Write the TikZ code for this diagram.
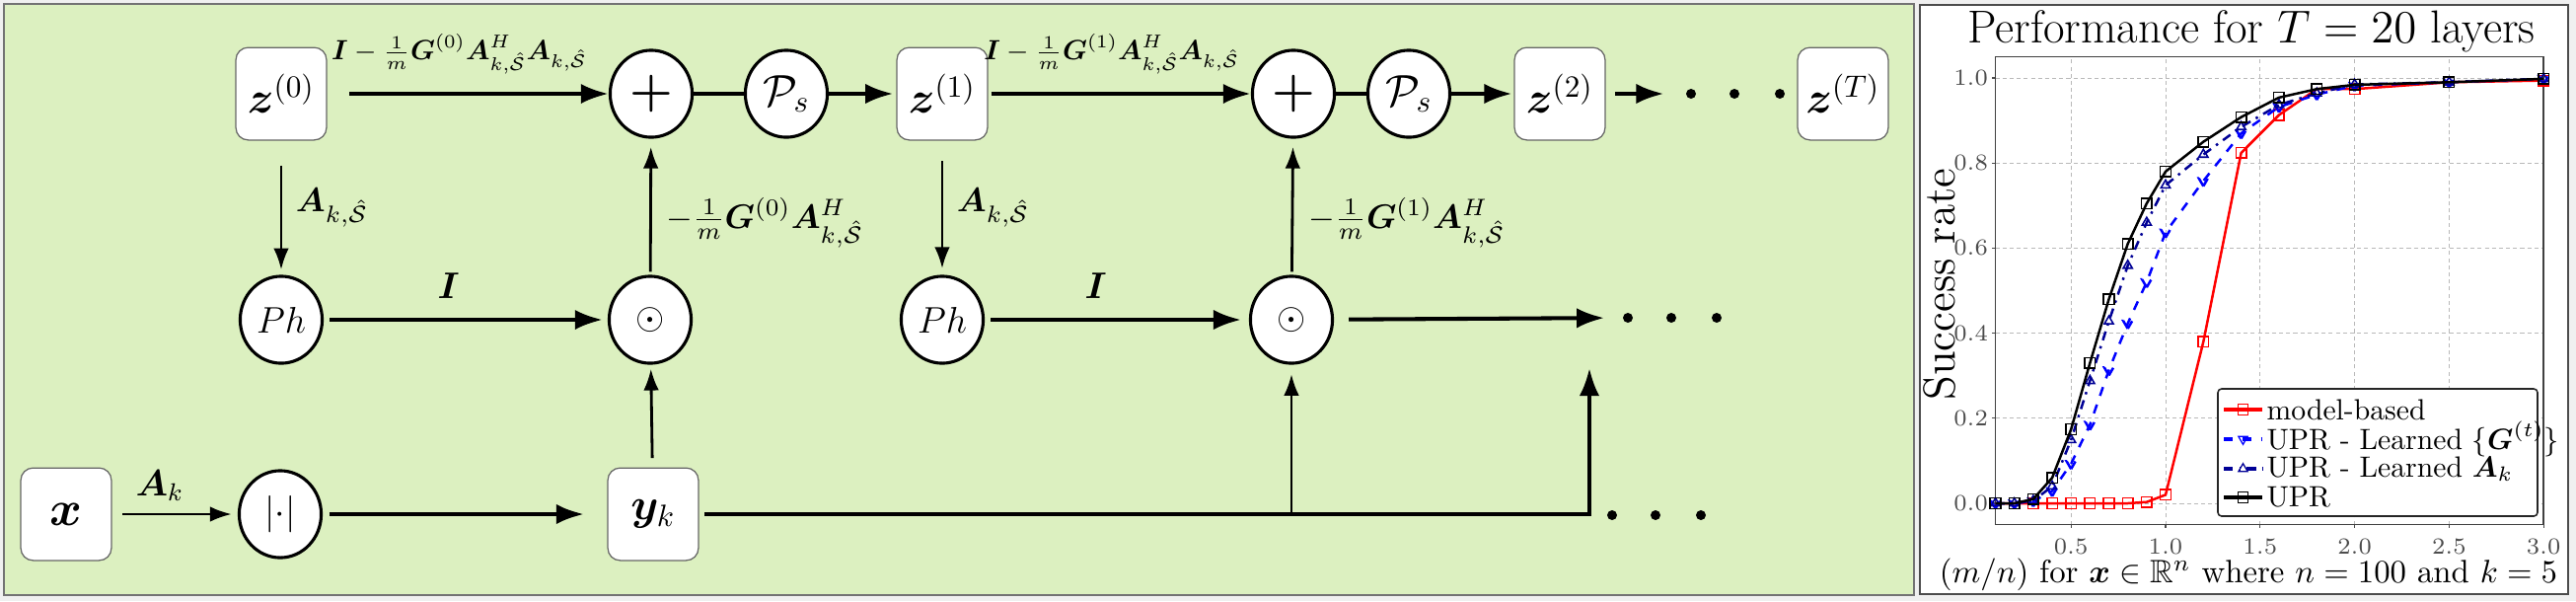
\RequirePackage{fix-cm}
\documentclass[tikz,border=0pt]{standalone}
\usepackage{amsmath,amssymb,bm}
\usetikzlibrary{arrows.meta,shapes.geometric,plotmarks}
\definecolor{panelgreen}{RGB}{220,240,192}
\definecolor{pagegray}{RGB}{240,240,240}
\definecolor{upnavy}{RGB}{0,0,150}
\begin{document}
\begin{tikzpicture}[x=0.32pt, y=-0.32pt,
    blockbox/.style={draw=black!60, line width=0.4pt, fill=white, rounded corners=4pt,
      minimum width=29.4pt, minimum height=30pt, inner sep=0pt},
    opnode/.style={ellipse, draw, line width=1pt, fill=white,
      minimum width=26.6pt, minimum height=28.2pt, inner sep=0pt},
    link/.style={line width=1.3pt},
    flow/.style={line width=1.3pt, -{Latex[length=9pt,width=6.5pt]}},
    thinflow/.style={line width=0.9pt, -{Latex[length=7pt,width=5pt]}},
    bigdot/.style={circle, fill, inner sep=0pt, minimum size=3.2pt},
    gridline/.style={gray!55, line width=0.3pt, dash pattern=on 1.3pt off 1pt},
    ticklab/.style={font=\fontsize{7.5}{8}\selectfont, text=black!70, inner sep=1pt},
    curve/.style={line width=0.8pt, mark size=1.7pt, mark options={solid, line width=0.5pt}} ]
    \useasboundingbox (0,0) rectangle (2611,609);
    \fill[pagegray] (0,0) rectangle (2611,609);
    \draw[black!55, line width=0.6pt, fill=panelgreen] (4,4) rectangle (1940,603);
    \draw[black!70, line width=0.7pt, fill=white] (1946,5) rectangle (2603,602);
    % top row
    \node[blockbox] (z0) at (285,95) {\Large$\bm{z}^{(0)}$};
    \node[opnode] (plus0) at (660,95) {\fontsize{16}{18}\selectfont\textbf{+}};
    \node[opnode] (ps0) at (797,95) {\Large$\mathcal{P}_s$};
    \node[blockbox] (z1) at (955,95) {\Large$\bm{z}^{(1)}$};
    \node[opnode] (plus1) at (1311,95) {\fontsize{16}{18}\selectfont\textbf{+}};
    \node[opnode] (ps1) at (1428,95) {\Large$\mathcal{P}_s$};
    \node[blockbox] (z2) at (1581,95) {\Large$\bm{z}^{(2)}$};
    \node[blockbox] (zT) at (1868,95) {\Large$\bm{z}^{(T)}$};
    \foreach \dx [count=\i] in {1714,1758,1804}
      \node[bigdot] (tdot\i) at (\dx,95) {};
    % middle row
    \node[opnode] (ph0) at (285,324) {\large$Ph$};
    \node[opnode] (odot0) at (659,324) {\large$\odot$};
    \node[opnode] (ph1) at (955,324) {\large$Ph$};
    \node[opnode] (odot1) at (1309,324) {\large$\odot$};
    \foreach \dx [count=\i] in {1650,1694,1740}
      \node[bigdot] (mdot\i) at (\dx,322) {};
    % bottom row
    \node[blockbox] (xin) at (67,521) {\fontsize{16}{18}\selectfont$\bm{x}$};
    \node[opnode] (absop) at (284,521) {\large$|{\cdot}|$};
    \node[blockbox] (yk) at (662,521) {\Large$\bm{y}_k$};
    \foreach \dx [count=\i] in {1634,1678,1724}
      \node[bigdot] (bdot\i) at (\dx,522) {};
    \coordinate (riseend) at (1611,373);
    % stage 0
    \draw[flow, shorten <=7.2pt] (z0) -- (plus0)
      node[pos=.47, above=2.5pt, font=\small] {$\bm{I}-\frac{1}{m}\bm{G}^{(0)}\bm{A}_{k,\hat{\mathcal{S}}}^{H}\bm{A}_{k,\hat{\mathcal{S}}}$};
    \draw[link] (plus0) -- (ps0);
    \draw[flow, shorten >=1pt] (ps0) -- (z1);
    \draw[thinflow, shorten <=8pt, shorten >=1.6pt] (z0) -- (ph0)
      node[midway, right=1pt, font=\fontsize{11}{13}\selectfont] {$\bm{A}_{k,\hat{\mathcal{S}}}$};
    \draw[flow, shorten <=1.9pt, shorten >=1.6pt] (ph0) -- (odot0)
      node[pos=.44, above=3pt, font=\large] {$\bm{I}$};
    \draw[thinflow, shorten <=1pt, shorten >=2.6pt] (odot0) -- (plus0)
      node[pos=.38, right=1.5pt, font=\fontsize{11}{13}\selectfont] {$-\frac{1}{m}\bm{G}^{(0)}\bm{A}_{k,\hat{\mathcal{S}}}^{H}$};
    % stage 1
    \draw[flow, shorten <=1pt] (z1) -- (plus1)
      node[pos=.47, above=2.5pt, font=\small] {$\bm{I}-\frac{1}{m}\bm{G}^{(1)}\bm{A}_{k,\hat{\mathcal{S}}}^{H}\bm{A}_{k,\hat{\mathcal{S}}}$};
    \draw[link] (plus1) -- (ps1);
    \draw[flow, shorten >=0.6pt] (ps1) -- (z2);
    \draw[flow, shorten <=3pt, shorten >=7pt] (z2) -- (tdot1);
    \draw[thinflow, shorten <=6.7pt, shorten >=2pt] (z1) -- (ph1)
      node[midway, right=1pt, font=\fontsize{11}{13}\selectfont] {$\bm{A}_{k,\hat{\mathcal{S}}}$};
    \draw[flow, shorten <=2pt, shorten >=2.5pt] (ph1) -- (odot1)
      node[pos=.42, above=3pt, font=\large] {$\bm{I}$};
    \draw[thinflow, shorten <=1pt, shorten >=2.6pt] (odot1) -- (plus1)
      node[pos=.38, right=1.5pt, font=\fontsize{11}{13}\selectfont] {$-\frac{1}{m}\bm{G}^{(1)}\bm{A}_{k,\hat{\mathcal{S}}}^{H}$};
    \draw[flow, shorten <=4.8pt, shorten >=5.8pt] (odot1) -- (mdot1);
    % measurements
    \draw[thinflow, line width=0.75pt, shorten <=3.5pt, shorten >=2pt] (xin) -- (absop)
      node[pos=.38, above=0.5pt, font=\large] {$\bm{A}_k$};
    \draw[flow, shorten <=2.2pt, shorten >=7.5pt] (absop) -- (yk);
    \draw[thinflow, shorten <=3pt, shorten >=1.3pt] (yk) -- (odot0);
    \draw[flow, line width=1.2pt, shorten <=1.8pt] (yk.east) -| (riseend);
    \draw[thinflow, shorten >=3pt] (yk -| odot1) -- (odot1);
    % performance plot
    \node[anchor=base, font=\fontsize{15}{17}\selectfont] (ptitle) at (2282,43) {Performance for $T=20$ layers};
    \node[anchor=base, rotate=90, font=\fontsize{14.5}{16}\selectfont] (ylab) at (1981,288) {Success rate};
    \node[anchor=base, font=\fontsize{10.5}{12}\selectfont] (xlab) at (2279,590)
      {$(m/n)$ for $\bm{x}\in\mathbb{R}^n$ where $n=100$ and $k=5$};
    \begin{scope}[shift={(2003.4,510)}, x=61.31pt, y=137.92pt]
      \foreach \gx in {0.5,1.0,1.5,2.0,2.5,3.0} {
        \draw[gridline] (\gx,-0.05) -- (\gx,1.05);
        \draw[black!70, line width=0.4pt] (\gx,-0.05) -- ++(0,-1.2pt);
        \node[ticklab, anchor=north] at (\gx,-0.075) {$\gx$};
      }
      \foreach \gy/\gt in {0/0.0,0.2/0.2,0.4/0.4,0.6/0.6,0.8/0.8,1.0/1.0} {
        \draw[gridline] (0.1,\gy) -- (3.0,\gy);
        \draw[black!70, line width=0.4pt] (0.1,\gy) -- ++(-1.2pt,0);
        \node[ticklab, anchor=east] at (0.08,\gy) {$\gt$};
      }
      \draw[black!75, line width=0.5pt] (0.1,-0.05) rectangle (3.0,1.05);
      \draw[curve, red, mark=square] plot coordinates {(0.1,0) (0.2,0) (0.3,0) (0.4,0) (0.5,0) (0.6,0) (0.7,0) (0.8,0) (0.9,0.003) (1.0,0.02) (1.2,0.38) (1.4,0.824) (1.6,0.913) (1.8,0.974) (2.0,0.974) (2.5,0.99) (3.0,0.994)};
      \draw[curve, blue, dashed, mark=triangle, mark options={rotate=180}] plot coordinates {(0.1,0) (0.2,0) (0.3,0.005) (0.4,0.029) (0.5,0.093) (0.6,0.185) (0.7,0.313) (0.8,0.423) (0.9,0.52) (1.0,0.637) (1.2,0.758) (1.4,0.87) (1.6,0.932) (1.8,0.961) (2.0,0.982) (2.5,0.99) (3.0,0.998)};
      \draw[curve, upnavy, dash dot, mark=triangle] plot coordinates {(0.1,0) (0.2,0) (0.3,0.006) (0.4,0.04) (0.5,0.149) (0.6,0.288) (0.7,0.428) (0.8,0.559) (0.9,0.66) (1.0,0.748) (1.2,0.82) (1.4,0.885) (1.6,0.937) (1.8,0.964) (2.0,0.985) (2.5,0.99) (3.0,0.998)};
      \draw[curve, black, mark=square] plot coordinates {(0.1,0) (0.2,0) (0.3,0.01) (0.4,0.06) (0.5,0.174) (0.6,0.33) (0.7,0.48) (0.8,0.61) (0.9,0.705) (1.0,0.78) (1.2,0.85) (1.4,0.908) (1.6,0.954) (1.8,0.974) (2.0,0.984) (2.5,0.99) (3.0,0.998)};
    \end{scope}
    % legend
    \draw[black!85, line width=0.5pt, fill=white, rounded corners=1.2pt] (2248,394) rectangle (2572,523);
    \foreach \ly/\lc/\ld/\lt in {415/red/solid/model-based,
        445/blue/dashed/{UPR - Learned $\{\bm{G}^{(t)}\}$},
        475/upnavy/dash dot/{UPR - Learned $\bm{A}_k$},
        504/black/solid/UPR} {
      \draw[\lc, \ld, line width=1pt] (2254,\ly) -- (2293,\ly);
      \node[anchor=west, inner sep=0pt, font=\fontsize{9.5}{11}\selectfont] at (2297,\ly) {\lt};
    }
    \path[red, mark size=1.7pt] plot[mark=square] coordinates {(2273.5,415)};
    \path[blue, mark size=1.7pt] plot[mark=triangle, mark options={rotate=180}] coordinates {(2273.5,445)};
    \path[upnavy, mark size=1.7pt] plot[mark=triangle] coordinates {(2273.5,475)};
    \path[black, mark size=1.7pt] plot[mark=square] coordinates {(2273.5,504)};
\end{tikzpicture}
\end{document}
